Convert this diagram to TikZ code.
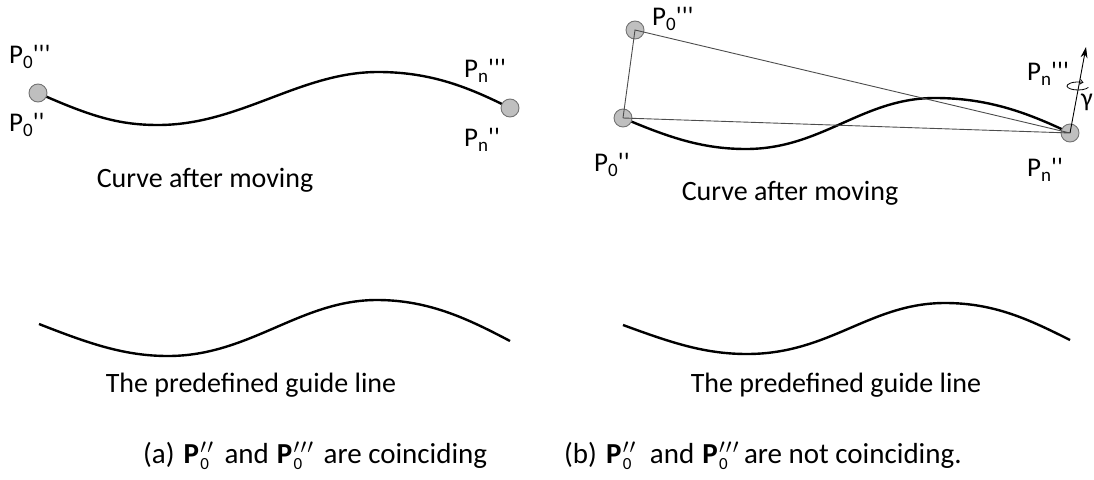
\documentclass[tikz,border=0pt]{standalone}
\usepackage{fontspec}
\setmainfont{Carlito}[Ligatures=TeXOff]
\usetikzlibrary{arrows.meta}
\newcommand\lbl[2]{P\raisebox{-0.2em}{\fontsize{19}{19}\selectfont #1}#2}
\newcommand\bp[1]{$\textbf{P}\mkern1mu^{#1}_{\mbox{\fontsize{17}{17}\selectfont 0}}$}
\tikzset{
  pt/.style={circle, draw=black!55, fill=black!25, line width=0.9pt, minimum size=18pt, inner sep=0pt},
  curve/.style={line width=2.4pt, black},
  thin/.style={line width=0.9pt, black!70},
  lab/.style={font=\fontsize{27}{32}\selectfont, inner sep=0pt, anchor=base west},
  captext/.style={font=\fontsize{28}{33}\selectfont, inner sep=0pt, anchor=base},
}
\begin{document}
\begin{tikzpicture}[x=1pt, y=-1pt]
\useasboundingbox (0,0) rectangle (1094,479);
% ---------- left panel ----------
\draw[curve] (38,93) .. controls (90,116) and (118,125) .. (158,125)
  .. controls (240,125) and (300,72) .. (378,72)
  .. controls (432,72) and (470,88) .. (510,108);
\node[pt] (a0) at (38,93) {};
\node[pt] (an) at (510,108) {};
\node[lab] (a0t) at (9,63) {\lbl{0}{'''}};
\node[lab] (a0b) at (9,131) {\lbl{0}{''}};
\node[lab] (ant) at (464,77) {\lbl{n}{'''}};
\node[lab] (anb) at (464,146) {\lbl{n}{''}};
\node[captext] (acurve) at (205,187) {Curve after moving};
\draw[curve] (39,324) .. controls (90,344) and (125,356) .. (168,356)
  .. controls (250,356) and (300,300) .. (377,300)
  .. controls (430,300) and (470,320) .. (510,341);
\node[captext] (aguide) at (251,392) {The predefined guide line};
\node[captext, anchor=base west, font=\fontsize{29}{33}\selectfont] (acap) at (143,463)
  {(a)\hspace{9pt}\bp{\prime\mkern1mu\prime}\hspace{11pt}and\hspace{8pt}\bp{\prime\mkern1mu\prime\mkern1mu\prime}\hspace{10pt}are coinciding};
% ---------- right panel ----------
\draw[curve] (623,118) .. controls (672,139) and (705,149) .. (746,149)
  .. controls (822,149) and (862,98) .. (935,98)
  .. controls (990,98) and (1030,114) .. (1070,133);
\node[pt] (b0t) at (635,30) {};
\node[pt] (b0b) at (623,118) {};
\node[pt] (bn) at (1070,133) {};
\draw[thin] (b0b.center) -- (b0t.center) -- (bn.center) -- (b0b.center);
\coordinate (btip) at (1086,47);
\draw[line width=0.9pt, -{Stealth[length=11pt, width=7pt]}] (bn.center) -- (btip);
\coordinate (rc) at (1078,86);
\draw[line width=0.8pt, -{Straight Barb[length=3pt, width=5pt]}] ([shift={(20:11 and 4)}]rc) arc[start angle=20, end angle=300, x radius=11, y radius=4];
\node[font=\fontsize{26}{30}\selectfont, inner sep=0pt, anchor=west] (gam) at (1081,102) {γ};
\node[lab] (b0tl) at (652,25) {\lbl{0}{'''}};
\node[lab] (b0bl) at (594,171) {\lbl{0}{''}};
\node[lab] (bntl) at (1027,80) {\lbl{n}{'''}};
\node[lab] (bnbl) at (1027,176) {\lbl{n}{''}};
\node[captext] (bcurve) at (790,200) {Curve after moving};
\draw[curve] (623,325) .. controls (672,343) and (705,354) .. (747,354)
  .. controls (830,354) and (870,303) .. (945,303)
  .. controls (995,303) and (1030,320) .. (1070,340);
\node[captext] (bguide) at (836,392) {The predefined guide line};
\node[captext, anchor=base west, font=\fontsize{29}{33}\selectfont] (bcap) at (564,463)
  {(b)\hspace{9pt}\bp{\prime\mkern1mu\prime}\hspace{14pt}and\hspace{8pt}\bp{\prime\mkern1mu\prime\mkern1mu\prime}\hspace{5pt}are not coinciding.};
\end{tikzpicture}
\end{document}
